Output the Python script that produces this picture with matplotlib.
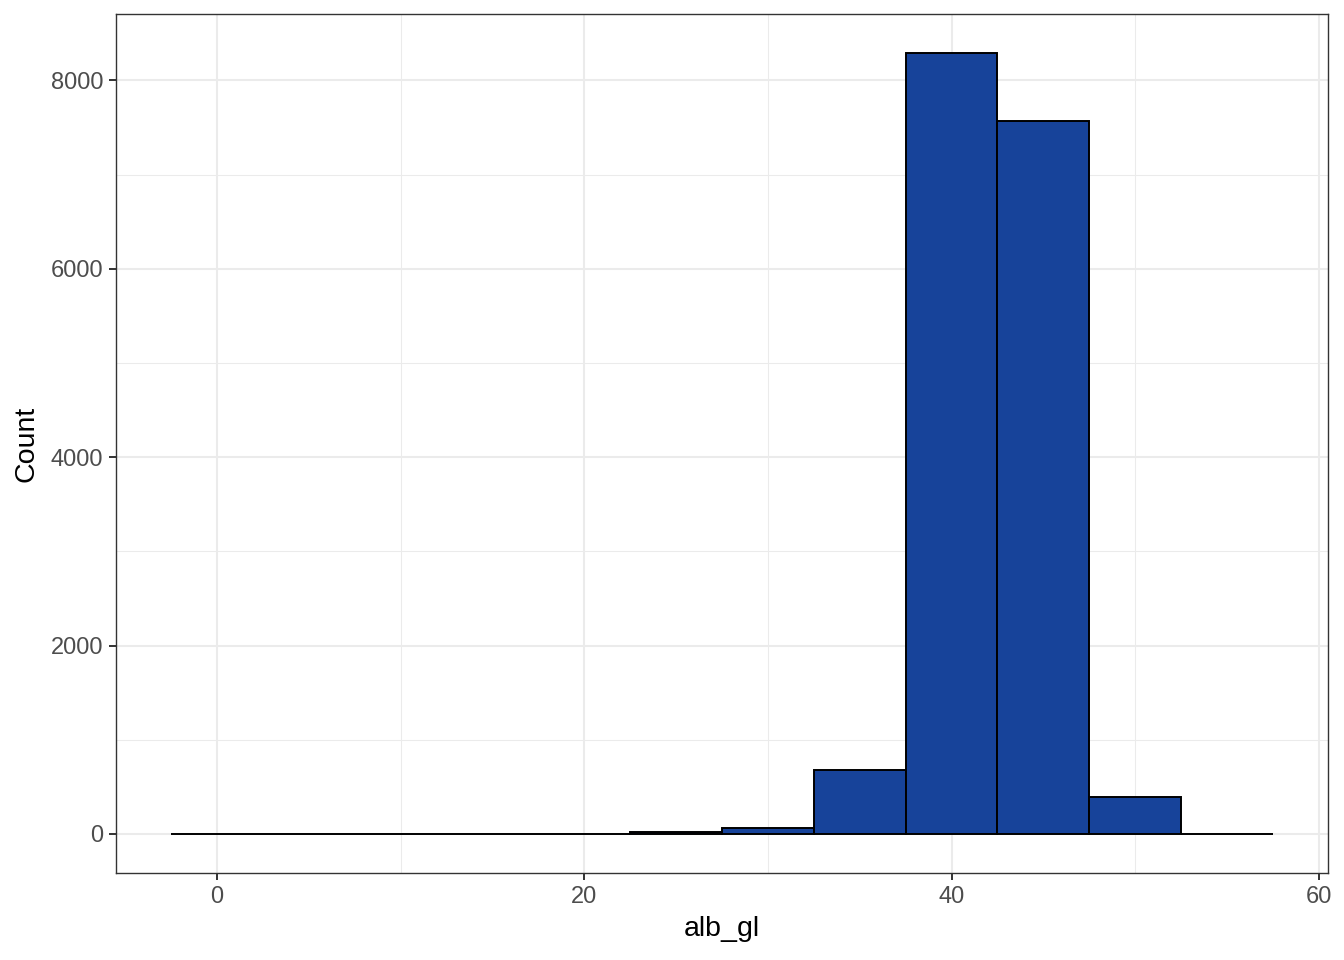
import numpy as np
import matplotlib.pyplot as plt
from matplotlib.ticker import MultipleLocator

# histogram of alb_gl, binwidth 5
bin_centers = [0, 5, 10, 15, 20, 25, 30, 35, 40, 45, 50, 55]
counts = [0, 0, 0, 0, 0, 18, 60, 680, 8290, 7565, 395, 0]
bin_width = 5

plt.rcParams['font.family'] = ['Liberation Sans', 'DejaVu Sans']

fig = plt.figure(figsize=(13.44, 9.6), dpi=100)
ax = fig.add_axes([0.0863, 0.0906, 0.9018, 0.8948])

ax.bar(bin_centers, counts, width=bin_width, color='#17439A',
       edgecolor='black', linewidth=1.4, zorder=3)

lo = bin_centers[0] - bin_width / 2
hi = bin_centers[-1] + bin_width / 2
pad = (hi - lo) * 0.05
ax.set_xlim(lo - pad, hi + pad)
ymax = max(counts)
ax.set_ylim(-ymax * 0.05, ymax * 1.05)

ax.xaxis.set_major_locator(MultipleLocator(20))
ax.xaxis.set_minor_locator(MultipleLocator(10))
ax.yaxis.set_major_locator(MultipleLocator(2000))
ax.yaxis.set_minor_locator(MultipleLocator(1000))

ax.grid(which='major', color='#EBEBEB', linewidth=1.5, zorder=0)
ax.grid(which='minor', color='#EBEBEB', linewidth=0.75, zorder=0)
ax.set_axisbelow(True)

for s in ax.spines.values():
    s.set_color('#333333')
    s.set_linewidth(1.0)

ax.tick_params(which='major', length=5, width=1.4, color='#333333',
               labelsize=17, labelcolor='#4D4D4D', pad=4)
ax.tick_params(which='minor', length=0)

ax.set_xlabel('alb_gl', fontsize=20.5, color='black', labelpad=6)
ax.set_ylabel('Count', fontsize=20.5, color='black', labelpad=8)

fig.savefig('out.png', dpi=100, facecolor='white')
